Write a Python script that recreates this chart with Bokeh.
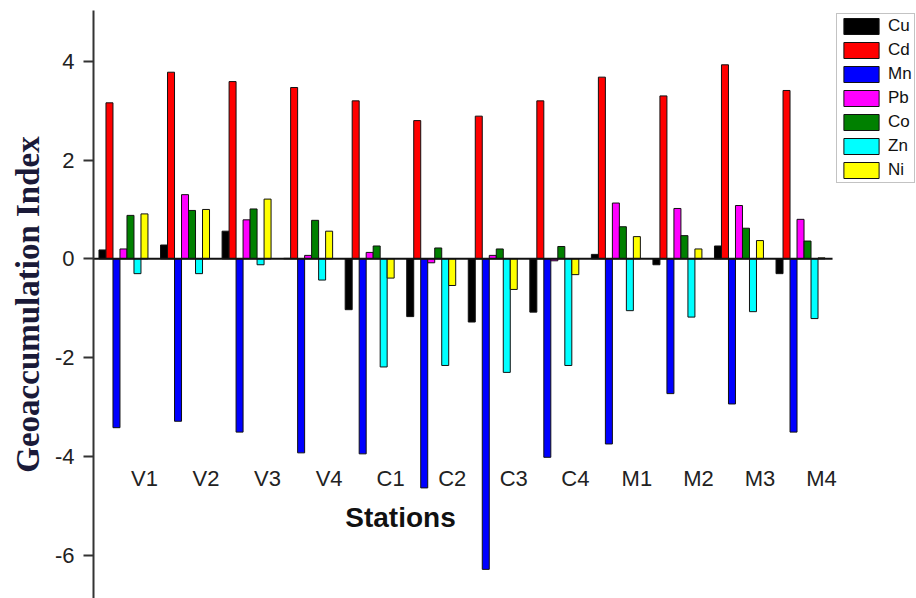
from bokeh.plotting import figure
from bokeh.models import (Range1d, Legend, LegendItem, FixedTicker, Label,
                          PrintfTickFormatter, ColumnDataSource)
from bokeh.transform import dodge
from bokeh.core.properties import value
from bokeh.embed import file_html
from bokeh.resources import INLINE

stations = ["V1", "V2", "V3", "V4", "C1", "C2", "C3", "C4", "M1", "M2", "M3", "M4"]
metals = ["Cu", "Cd", "Mn", "Pb", "Co", "Zn", "Ni"]
colors = ["#000000", "#FF0000", "#0000FF", "#FF00FF", "#008000", "#00FFFF", "#FFFF00"]

Cu = [0.18, 0.28, 0.56, 0.01, -1.03, -1.17, -1.28, -1.08, 0.09, -0.12, 0.26, -0.30]
Cd = [3.16, 3.78, 3.59, 3.47, 3.20, 2.80, 2.89, 3.20, 3.68, 3.30, 3.93, 3.41]
Mn = [-3.42, -3.29, -3.51, -3.93, -3.95, -4.64, -6.29, -4.02, -3.75, -2.73, -2.94, -3.51]
Pb = [0.20, 1.30, 0.79, 0.07, 0.13, -0.08, 0.07, -0.04, 1.13, 1.02, 1.08, 0.80]
Co = [0.88, 0.98, 1.01, 0.78, 0.26, 0.22, 0.20, 0.25, 0.65, 0.47, 0.62, 0.36]
Zn = [-0.30, -0.30, -0.12, -0.43, -2.19, -2.16, -2.30, -2.16, -1.05, -1.18, -1.07, -1.21]
Ni = [0.91, 1.00, 1.21, 0.56, -0.39, -0.54, -0.62, -0.32, 0.45, 0.20, 0.37, 0.02]
series = [Cu, Cd, Mn, Pb, Co, Zn, Ni]

y_ticks = [-6, -4, -2, 0, 2, 4]

# one unit per station group; bars of the 7 metals side by side
n = len(stations)
bar_w = 0.1137
data = {"pos": list(range(n)), "station": stations}
for m, vals in zip(metals, series):
    data[m] = vals
src = ColumnDataSource(data)

x_range = Range1d(-0.487, -0.487 + 823 / 61.55)
p = figure(width=916, height=598, x_range=x_range, y_range=Range1d(-6.88, 5.03),
           output_backend="svg", toolbar_location=None, x_axis_location=None,
           min_border_left=93, min_border_top=10, min_border_bottom=0, min_border_right=0)
p.outline_line_color = None
p.xgrid.visible = False
p.ygrid.visible = False
p.background_fill_color = "white"
p.border_fill_color = "white"

items = []
for j, (m, c) in enumerate(zip(metals, colors)):
    off = (j - (len(metals) - 1) / 2) * bar_w
    r = p.vbar(x=dodge("pos", off, range=p.x_range), top=m, bottom=0, width=bar_w,
               source=src, fill_color=c, line_color="#111111", line_width=1)
    items.append(LegendItem(label=m, renderers=[r]))

# zero line, from the y axis to the end of the last group
p.segment(x0=[x_range.start], x1=[n - 0.48], y0=[0], y1=[0],
          line_color="#111111", line_width=2)

# station labels inside the plot, under the last bar of each group
p.text(x=dodge("pos", 3 * bar_w, range=p.x_range), y=-4.45, text="station", source=src,
       text_align="center", text_baseline="middle", text_font=value("Liberation Sans"),
       text_font_size="22px", text_color="#222222")

p.add_layout(Label(x=307, y=81, x_units="screen", y_units="screen", text="Stations",
                   text_align="center", text_baseline="middle",
                   text_font="Liberation Sans", text_font_style="bold",
                   text_font_size="28px", text_color="#111111"))

ax = p.yaxis[0]
ax.ticker = FixedTicker(ticks=y_ticks, minor_ticks=[])
ax.formatter = PrintfTickFormatter(format="%d")
ax.axis_line_color = "#333333"
ax.axis_line_width = 2
ax.major_tick_line_color = "#333333"
ax.major_tick_line_width = 2
ax.major_tick_out = 10
ax.major_tick_in = 0
ax.minor_tick_line_color = None
ax.major_label_text_font = "Liberation Sans"
ax.major_label_text_font_size = "22px"
ax.major_label_text_color = "#222222"
ax.major_label_standoff = 9
ax.axis_label = "Geoaccumulation Index"
ax.axis_label_text_font = "Liberation Serif"
ax.axis_label_text_font_style = "bold"
ax.axis_label_text_font_size = "33px"
ax.axis_label_text_color = "#1a1a38"
ax.axis_label_standoff = 6

legend = Legend(items=items, location=(743, 415), margin=0, padding=2,
                glyph_width=44, glyph_height=20, spacing=4, label_standoff=5,
                label_text_font="Liberation Sans", label_text_font_size="17px",
                label_text_color="#111111", label_height=20, label_width=20,
                border_line_color="#888888", border_line_width=1,
                background_fill_color="white", background_fill_alpha=1.0)
p.add_layout(legend)

open("out.html", "w").write(file_html(p, INLINE))
